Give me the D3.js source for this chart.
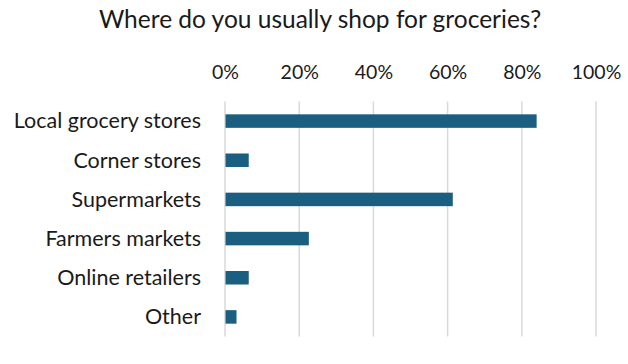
<!DOCTYPE html>
<html>
<head>
<meta charset="utf-8">
<script src="https://cdn.jsdelivr.net/npm/d3@7"></script>
<style>
  html, body { margin: 0; padding: 0; background: #fff; }
  svg { display: block; font-family: Lato, "Open Sans", sans-serif; }
</style>
</head>
<body>
<svg id="chart" width="628" height="364"></svg>
<script>
// Survey answers: share of respondents per shopping location
const categories = ["Local grocery stores", "Corner stores", "Supermarkets", "Farmers markets", "Online retailers", "Other"];
const shares = [0.84, 0.064, 0.614, 0.226, 0.064, 0.031];
const tickValues = [0, 0.2, 0.4, 0.6, 0.8, 1.0];
const title = "Where do you usually shop for groceries?";

const svg = d3.select("#chart");
const margin = { left: 225, right: 32, top: 101.5, bottom: 27.5 };
const W = 628, H = 364;
const textColor = "#1a1a1a";

const x = d3.scaleLinear().domain([0, 1]).range([margin.left, W - margin.right]);
const y = d3.scaleBand().domain(categories).range([margin.top, H - margin.bottom]).paddingInner(0.655).paddingOuter(0.3275);

// title
svg.append("text")
  .attr("x", 320).attr("y", 28)
  .attr("text-anchor", "middle")
  .attr("font-size", 24.5)
  .attr("fill", textColor)
  .text(title);

// vertical gridlines
svg.append("g").selectAll("line").data(tickValues).join("line")
  .attr("x1", d => x(d)).attr("x2", d => x(d))
  .attr("y1", margin.top).attr("y2", H - margin.bottom)
  .attr("stroke", "#d9d9d9").attr("stroke-width", 1.5);

// top percentage axis
const xAxis = d3.axisTop(x).tickValues(tickValues).tickFormat(d3.format(".0%")).tickSize(0).tickPadding(0);
const gx = svg.append("g").attr("transform", `translate(0,78.5)`).call(xAxis);
gx.select(".domain").remove();
gx.selectAll("text").attr("font-size", 19.5).attr("fill", textColor).attr("font-family", "Lato, sans-serif");

// category axis
const yAxis = d3.axisLeft(y).tickSize(0).tickPadding(0);
const gy = svg.append("g").attr("transform", `translate(201,0)`).call(yAxis);
gy.select(".domain").remove();
gy.selectAll("text").attr("font-size", 21.5).attr("dy", "0.34em").attr("fill", textColor).attr("font-family", "Lato, sans-serif");

// bars
svg.append("g").selectAll("rect").data(categories).join("rect")
  .attr("x", x(0) + 0.5)
  .attr("y", d => y(d))
  .attr("width", (d, i) => x(shares[i]) - x(0) - 0.5)
  .attr("height", y.bandwidth())
  .attr("fill", "#1a5f80");
</script>
</body>
</html>
